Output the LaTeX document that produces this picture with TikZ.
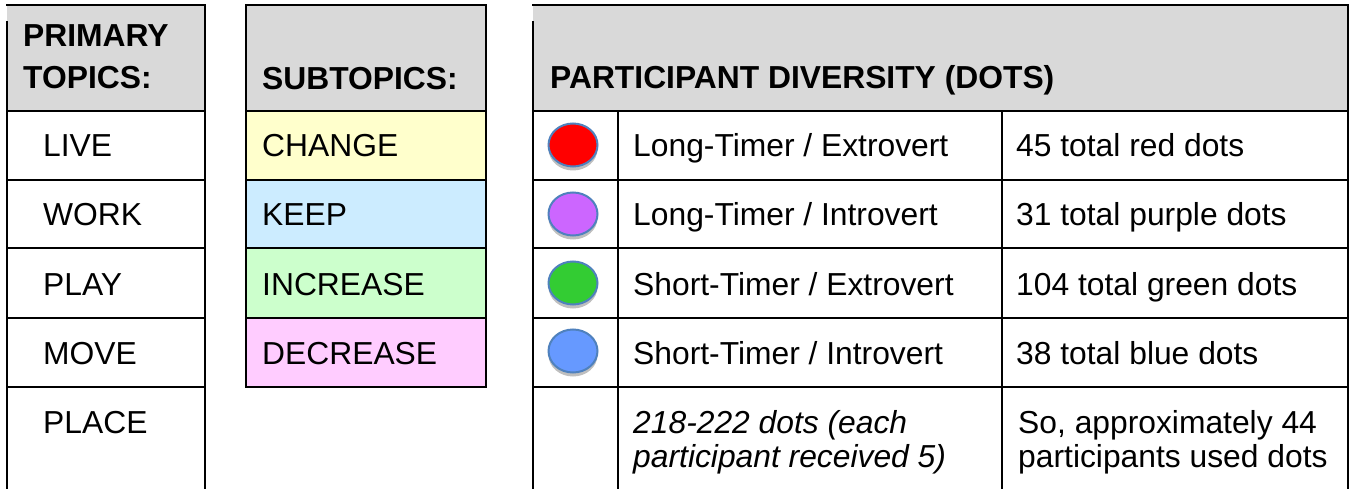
\documentclass[tikz,border=0pt]{standalone}
\usepackage{fontspec}
\setmainfont{Liberation Sans}
\usetikzlibrary{shadows}
\definecolor{hdr}{HTML}{D9D9D9}
\definecolor{cyel}{HTML}{FFFFCC}
\definecolor{cblu}{HTML}{CCECFF}
\definecolor{cgrn}{HTML}{CCFFCC}
\definecolor{cpnk}{HTML}{FFCCFF}
\definecolor{dred}{HTML}{FF0000}
\definecolor{dpur}{HTML}{CC66FF}
\definecolor{dgrn}{HTML}{33CC33}
\definecolor{dblu}{HTML}{6699FF}
\definecolor{dline}{HTML}{4F81BD}
\begin{document}
\begin{tikzpicture}[x=1pt,y=-1pt,
  grid/.style={line width=2.2pt, line cap=rect, black},
  txt/.style={anchor=base west, inner sep=0pt, font=\fontsize{31.8}{38}\selectfont},
  hd/.style={txt, font=\fontsize{31.8}{38}\selectfont\bfseries},
  itx/.style={txt, font=\fontsize{31.8}{38}\selectfont\itshape},
  dotmark/.style={draw=dline, line width=2pt,
    drop shadow={shadow xshift=0pt, shadow yshift=-4pt, opacity=0.25, fill=black}}]
\useasboundingbox (0,0) rectangle (1351,489);
\fill[white] (0,0) rectangle (1351,489);
% ---------- left table ----------
\fill[hdr] (7,5) rectangle (205,111);
\draw[grid] (7,5) -- (205,5) -- (205,489);
\draw[grid] (7,22) -- (7,489);
\foreach \yy in {111,180,248,318,387} \draw[grid] (7,\yy) -- (205,\yy);
\node[hd] (pt1) at (23,47) {PRIMARY};
\node[hd] (pt2) at (23,89) {TOPICS:};
\node[txt] (live) at (43,157) {LIVE};
\node[txt] (work) at (43,225) {WORK};
\node[txt] (play) at (43,295) {PLAY};
\node[txt] (move) at (43,364) {MOVE};
\node[txt] (place) at (43,433) {PLACE};
% ---------- middle table ----------
\fill[hdr] (246,5) rectangle (486,111);
\fill[cyel] (246,111) rectangle (486,180);
\fill[cblu] (246,180) rectangle (486,248);
\fill[cgrn] (246,248) rectangle (486,318);
\fill[cpnk] (246,318) rectangle (486,387);
\draw[grid, line join=miter] (246,5) rectangle (486,387);
\foreach \yy in {111,180,248,318} \draw[grid] (246,\yy) -- (486,\yy);
\node[hd] (sub) at (262,90) {SUBTOPICS:};
\node[txt] (change) at (262,157) {CHANGE};
\node[txt] (keep) at (262,225) {KEEP};
\node[txt] (incr) at (262,295) {INCREASE};
\node[txt] (decr) at (262,364) {DECREASE};
% ---------- right table ----------
\fill[hdr] (533,5) rectangle (1348,111);
\draw[grid] (533,5) -- (1348,5) -- (1348,489);
\draw[grid] (533,22) -- (533,489);
\foreach \yy in {111,180,248,318,387} \draw[grid] (533,\yy) -- (1348,\yy);
\draw[grid] (618,111) -- (618,489);
\draw[grid] (1002,111) -- (1002,489);
\node[hd] (pd) at (550,89) {PARTICIPANT DIVERSITY (DOTS)};
\draw[dotmark, fill=dred] (573,145) ellipse [x radius=24.5pt, y radius=21.5pt];
\draw[dotmark, fill=dpur] (573,214) ellipse [x radius=24.5pt, y radius=21.5pt];
\draw[dotmark, fill=dgrn] (573,283) ellipse [x radius=24.5pt, y radius=21.5pt];
\draw[dotmark, fill=dblu] (573,351) ellipse [x radius=24.5pt, y radius=21.5pt];
\node[txt] (lte) at (633,157) {Long-Timer / Extrovert};
\node[txt] (lti) at (633,225) {Long-Timer / Introvert};
\node[txt] (ste) at (633,295) {Short-Timer / Extrovert};
\node[txt] (sti) at (633,364) {Short-Timer / Introvert};
\node[txt] (nred) at (1016,157) {45 total red dots};
\node[txt] (npur) at (1016,225) {31 total purple dots};
\node[txt] (ngrn) at (1016,295) {104 total green dots};
\node[txt] (nblu) at (1016,364) {38 total blue dots};
\node[itx] (tot1) at (633,433) {218-222 dots (each};
\node[itx] (tot2) at (633,467) {participant received 5)};
\node[txt] (so1) at (1018,433) {So, approximately 44};
\node[txt] (so2) at (1018,467) {participants used dots};
\end{tikzpicture}
\end{document}
